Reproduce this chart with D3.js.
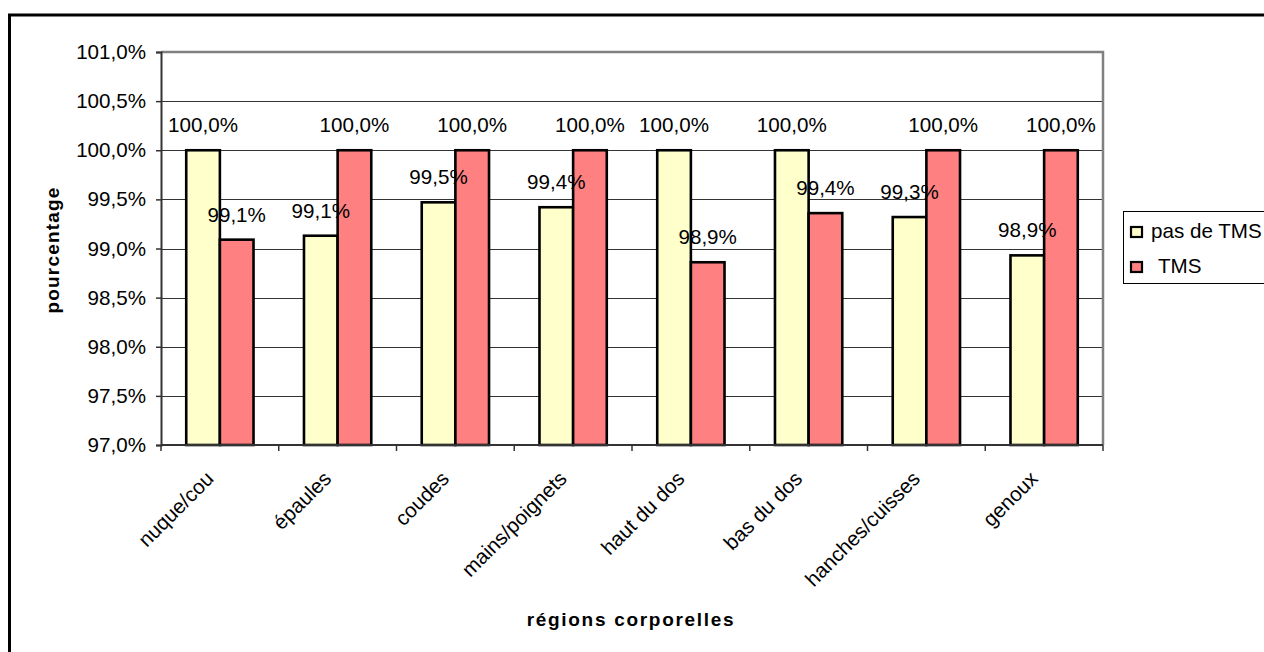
<!DOCTYPE html>
<html>
<head>
<meta charset="utf-8">
<script src="https://cdn.jsdelivr.net/npm/d3@7"></script>
<style>
  html, body { margin: 0; padding: 0; background: #fff; }
  svg { display: block; }
  text { font-family: "Liberation Sans", Arial, sans-serif; fill: #000; }
</style>
</head>
<body>
<svg id="chart" width="1264" height="652"></svg>
<script>
const categories = ["nuque/cou", "épaules", "coudes", "mains/poignets", "haut du dos", "bas du dos", "hanches/cuisses", "genoux"];
const seriesNames = ["pas de TMS", "TMS"];
const pasDeTMS = [100.0, 99.13, 99.47, 99.42, 100.0, 100.0, 99.32, 98.93];
const tms      = [99.09, 100.0, 100.0, 100.0, 98.86, 99.36, 100.0, 100.0];
const yTicks = [97.0, 97.5, 98.0, 98.5, 99.0, 99.5, 100.0, 100.5, 101.0];
const colors = ["#FFFFCC", "#FF8080"];
const yTitle = "pourcentage";
const xTitle = "régions corporelles";

const svg = d3.select("#chart");
const plot = { left: 161, right: 1103, top: 52, bottom: 445 };
const fs = "20.6px";

const fmt = v => d3.format(".1f")(v).replace(".", ",") + "%";

// outer border
svg.append("rect").attr("x", 9.5).attr("y", 15).attr("width", 1300).attr("height", 700)
  .attr("fill", "none").attr("stroke", "#000").attr("stroke-width", 3);

const y = d3.scaleLinear().domain([97, 101]).range([plot.bottom, plot.top]);
const x0 = d3.scaleBand().domain(categories).range([plot.left, plot.right]).paddingInner(0).paddingOuter(0);
const x1 = d3.scaleBand().domain(seriesNames).range([0, x0.bandwidth()]).paddingInner(0).paddingOuter(0.75);

// gridlines
svg.append("g").selectAll("line").data(yTicks.filter(t => t > 97 && t < 101)).join("line")
  .attr("x1", plot.left).attr("x2", plot.right)
  .attr("y1", d => Math.round(y(d)) + 0.5).attr("y2", d => Math.round(y(d)) + 0.5)
  .attr("stroke", "#333").attr("stroke-width", 1);

// plot frame top and right (gray)
svg.append("path")
  .attr("d", `M${plot.left},${plot.top} H${plot.right} V${plot.bottom}`)
  .attr("fill", "none").attr("stroke", "#808080").attr("stroke-width", 2.5);

// bars
const rows = categories.map((c, i) => ({ cat: c, vals: [pasDeTMS[i], tms[i]] }));
const groups = svg.append("g").selectAll("g").data(rows).join("g")
  .attr("transform", d => `translate(${x0(d.cat)},0)`);

groups.selectAll("rect").data(d => d.vals.map((v, j) => ({ v, s: seriesNames[j], j }))).join("rect")
  .attr("x", d => x1(d.s))
  .attr("y", d => y(d.v))
  .attr("width", x1.bandwidth())
  .attr("height", d => y(97) - y(d.v))
  .attr("fill", d => colors[d.j])
  .attr("stroke", "#000").attr("stroke-width", 2.6);

// data labels
groups.selectAll("text.lab").data(d => d.vals.map((v, j) => ({ v, s: seriesNames[j], j }))).join("text")
  .attr("class", "lab")
  .attr("x", d => x1(d.s) + x1.bandwidth() / 2)
  .attr("y", d => y(d.v) - 18)
  .attr("text-anchor", "middle")
  .style("font-size", fs)
  .text(d => fmt(d.v));

// y axis
const yAxis = d3.axisLeft(y).tickValues(yTicks).tickFormat(fmt).tickSize(5).tickPadding(10);
const ya = svg.append("g").attr("transform", `translate(${plot.left},0)`).call(yAxis);
ya.select(".domain").attr("stroke", "#333").attr("stroke-width", 2);
ya.selectAll(".tick line").attr("stroke", "#333").attr("stroke-width", 1.5);
ya.selectAll(".tick text").style("font-size", fs).style("font-family", '"Liberation Sans", Arial, sans-serif').attr("fill", "#000");

// x axis: line + boundary ticks
svg.append("line").attr("x1", plot.left).attr("x2", plot.right)
  .attr("y1", plot.bottom).attr("y2", plot.bottom).attr("stroke", "#333").attr("stroke-width", 2);
const bounds = categories.map(c => x0(c)).concat([plot.right]);
svg.append("g").selectAll("line").data(bounds).join("line")
  .attr("x1", d => d).attr("x2", d => d)
  .attr("y1", plot.bottom).attr("y2", plot.bottom + 6)
  .attr("stroke", "#333").attr("stroke-width", 1.5);

// category labels
svg.append("g").selectAll("text").data(categories).join("text")
  .attr("transform", d => `translate(${x0(d) + x0.bandwidth() / 2 - 5},${plot.bottom + 35}) rotate(-45)`)
  .attr("text-anchor", "end")
  .style("font-size", fs)
  .text(d => d);

// axis titles
svg.append("text")
  .attr("transform", `translate(59,250) rotate(-90)`)
  .attr("text-anchor", "middle")
  .style("font-size", "19px").style("font-weight", "bold").style("letter-spacing", "1.2px")
  .text(yTitle);

svg.append("text")
  .attr("x", 631).attr("y", 626)
  .attr("text-anchor", "middle")
  .style("font-size", "19px").style("font-weight", "bold").style("letter-spacing", "1.7px")
  .text(xTitle);

// legend
const lg = svg.append("g");
lg.append("rect").attr("x", 1123.5).attr("y", 211.5).attr("width", 160).attr("height", 72)
  .attr("fill", "#fff").attr("stroke", "#000").attr("stroke-width", 1);
const items = lg.selectAll("g").data(seriesNames).join("g")
  .attr("transform", (d, i) => `translate(1131,${227 + i * 35})`);
items.append("rect").attr("x", 0).attr("y", 0).attr("width", 11).attr("height", 10)
  .attr("fill", (d, i) => colors[i]).attr("stroke", "#000").attr("stroke-width", 2.2);
items.append("text").attr("x", (d, i) => i === 0 ? 20 : 27).attr("y", 11)
  .style("font-size", fs)
  .text(d => d);
</script>
</body>
</html>
